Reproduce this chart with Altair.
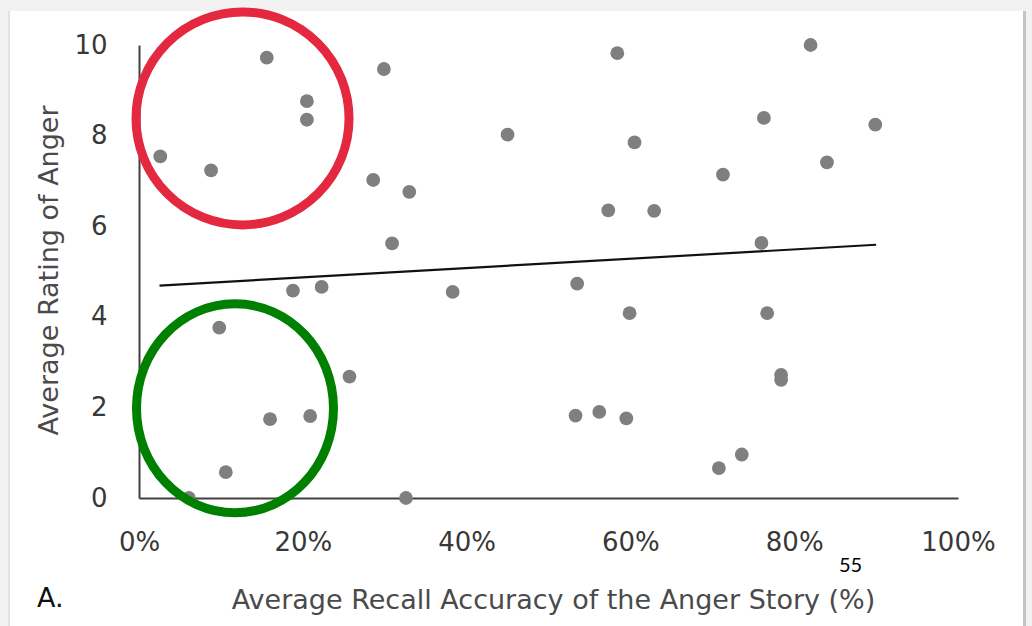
import altair as alt
import pandas as pd

# Average recall accuracy of the anger story (%) and average rating of anger
recall = [15.6, 29.9, 20.5, 20.5, 2.6, 8.8, 28.6, 33.0, 30.9, 18.8, 22.3, 38.3,
          45.0, 58.4, 82.0, 76.3, 89.9, 60.5, 84.0, 71.3, 57.3, 62.9, 76.0, 53.5,
          59.9, 76.7, 9.8, 25.7, 16.0, 20.9, 10.6, 6.1, 32.6, 78.4, 78.4, 53.3,
          56.2, 59.5, 73.6, 70.8]
anger = [9.72, 9.47, 8.76, 8.35, 7.54, 7.23, 7.02, 6.76, 5.62, 4.58, 4.66, 4.55,
         8.02, 9.82, 10.0, 8.39, 8.24, 7.85, 7.41, 7.14, 6.35, 6.34, 5.63, 4.73,
         4.08, 4.08, 3.76, 2.68, 1.74, 1.81, 0.57, 0.0, 0.0, 2.72, 2.61, 1.82,
         1.90, 1.76, 0.96, 0.66]

# Linear trend line end points
trend_x = [2.5, 90.0]
trend_y = [4.69, 5.59]

# Highlight circles (centres in data units)
ring_x = [12.64, 11.72]
ring_y = [8.38, 1.98]
ring_name = ["red", "green"]

x_ticks = [0, 20, 40, 60, 80, 100]
y_ticks = [0, 2, 4, 6, 8, 10]

FONT = "DejaVu Sans"

pts = pd.DataFrame({"recall": recall, "anger": anger})
trend = pd.DataFrame({"recall": trend_x, "anger": trend_y})
rings = pd.DataFrame({"recall": ring_x, "anger": ring_y, "name": ring_name})
one = pd.DataFrame({"k": [0]})

xs = alt.Scale(domain=[0, 100], nice=False, zero=True)
ys = alt.Scale(domain=[0, 10], nice=False, zero=True)

xaxis = alt.Axis(values=x_ticks, labelExpr="datum.value + '%'", ticks=False,
                 grid=False, domainColor="#404040", domainWidth=2,
                 labelFlush=False, labelOverlap=False,
                 labelPadding=31, labelFontSize=26, labelColor="#383838",
                 title="Average Recall Accuracy of the Anger Story (%)",
                 titleFontSize=27, titleFontWeight="normal", titleColor="#4a4a4a",
                 titleY=110, titleX=414, titleBaseline="alphabetic")
yaxis = alt.Axis(values=y_ticks, ticks=False, grid=False, domainColor="#404040",
                 domainWidth=2, labelFlush=False, labelOverlap=False,
                 labelPadding=32, labelFontSize=26,
                 labelColor="#383838", title="Average Rating of Anger",
                 titleFontSize=27, titleFontWeight="normal", titleColor="#4a4a4a",
                 titleX=-82, titleY=225, titleBaseline="alphabetic")

X = alt.X("recall:Q", scale=xs, axis=xaxis)
Y = alt.Y("anger:Q", scale=ys, axis=yaxis)

GRAY = "#f2f2f2"
top_band = alt.Chart(one).mark_rect(color=GRAY).encode(
    x=alt.value(-139), x2=alt.value(893), y=alt.value(-45), y2=alt.value(-34))
left_band = alt.Chart(one).mark_rect(color=GRAY).encode(
    x=alt.value(-139), x2=alt.value(-131), y=alt.value(-45), y2=alt.value(581))
right_band = alt.Chart(one).mark_rect(color=GRAY).encode(
    x=alt.value(887), x2=alt.value(893), y=alt.value(-45), y2=alt.value(581))
right_edge = alt.Chart(one).mark_rule(color="#c4c4c4", strokeWidth=3).encode(
    x=alt.value(885.5), y=alt.value(-34), y2=alt.value(581))
left_edge = alt.Chart(one).mark_rule(color="#e2e2e2", strokeWidth=2).encode(
    x=alt.value(-130), y=alt.value(-34), y2=alt.value(581))

points = alt.Chart(pts).mark_point(filled=True, shape="circle", size=190,
                                   color="#7f7f7f", opacity=1).encode(x=X, y=Y)

line = alt.Chart(trend).mark_line(color="#111111", strokeWidth=2.2).encode(x=X, y=Y)

red_ring = alt.Chart(rings).transform_filter("datum.name == 'red'").mark_point(
    shape="circle", filled=False, size=45369, strokeWidth=9, color="#e3283f",
    opacity=1).encode(x=X, y=Y)

green_ring = alt.Chart(rings).transform_filter("datum.name == 'green'").mark_point(
    shape="M -0.9426 0 A 0.9426 1 0 1 1 0.9426 0 A 0.9426 1 0 1 1 -0.9426 0 Z",
    filled=False, size=43681, strokeWidth=9, color="#008000", opacity=1).encode(
    x=X, y=Y)

label_a = alt.Chart(one).mark_text(text="A.", align="left", baseline="alphabetic",
                                   font=FONT, fontSize=27, color="#111111").encode(
    x=alt.value(-102), y=alt.value(562))
page = alt.Chart(one).mark_text(text="55", align="center", baseline="alphabetic",
                                font="Lato", fontSize=20, color="#000000").encode(
    x=alt.value(711.5), y=alt.value(527))

chart = alt.layer(top_band, left_band, right_band, right_edge, left_edge, points,
                  line, red_ring, green_ring, label_a, page).properties(
    width=819, height=453, background="white",
    padding={"left": 139, "top": 45, "right": 74, "bottom": 128},
    autosize=alt.AutoSizeParams(type="none"),
).configure_view(stroke=None).configure_axis(labelFont=FONT, titleFont=FONT)

chart.save("out.html", embed_options={"renderer": "svg", "actions": False})
